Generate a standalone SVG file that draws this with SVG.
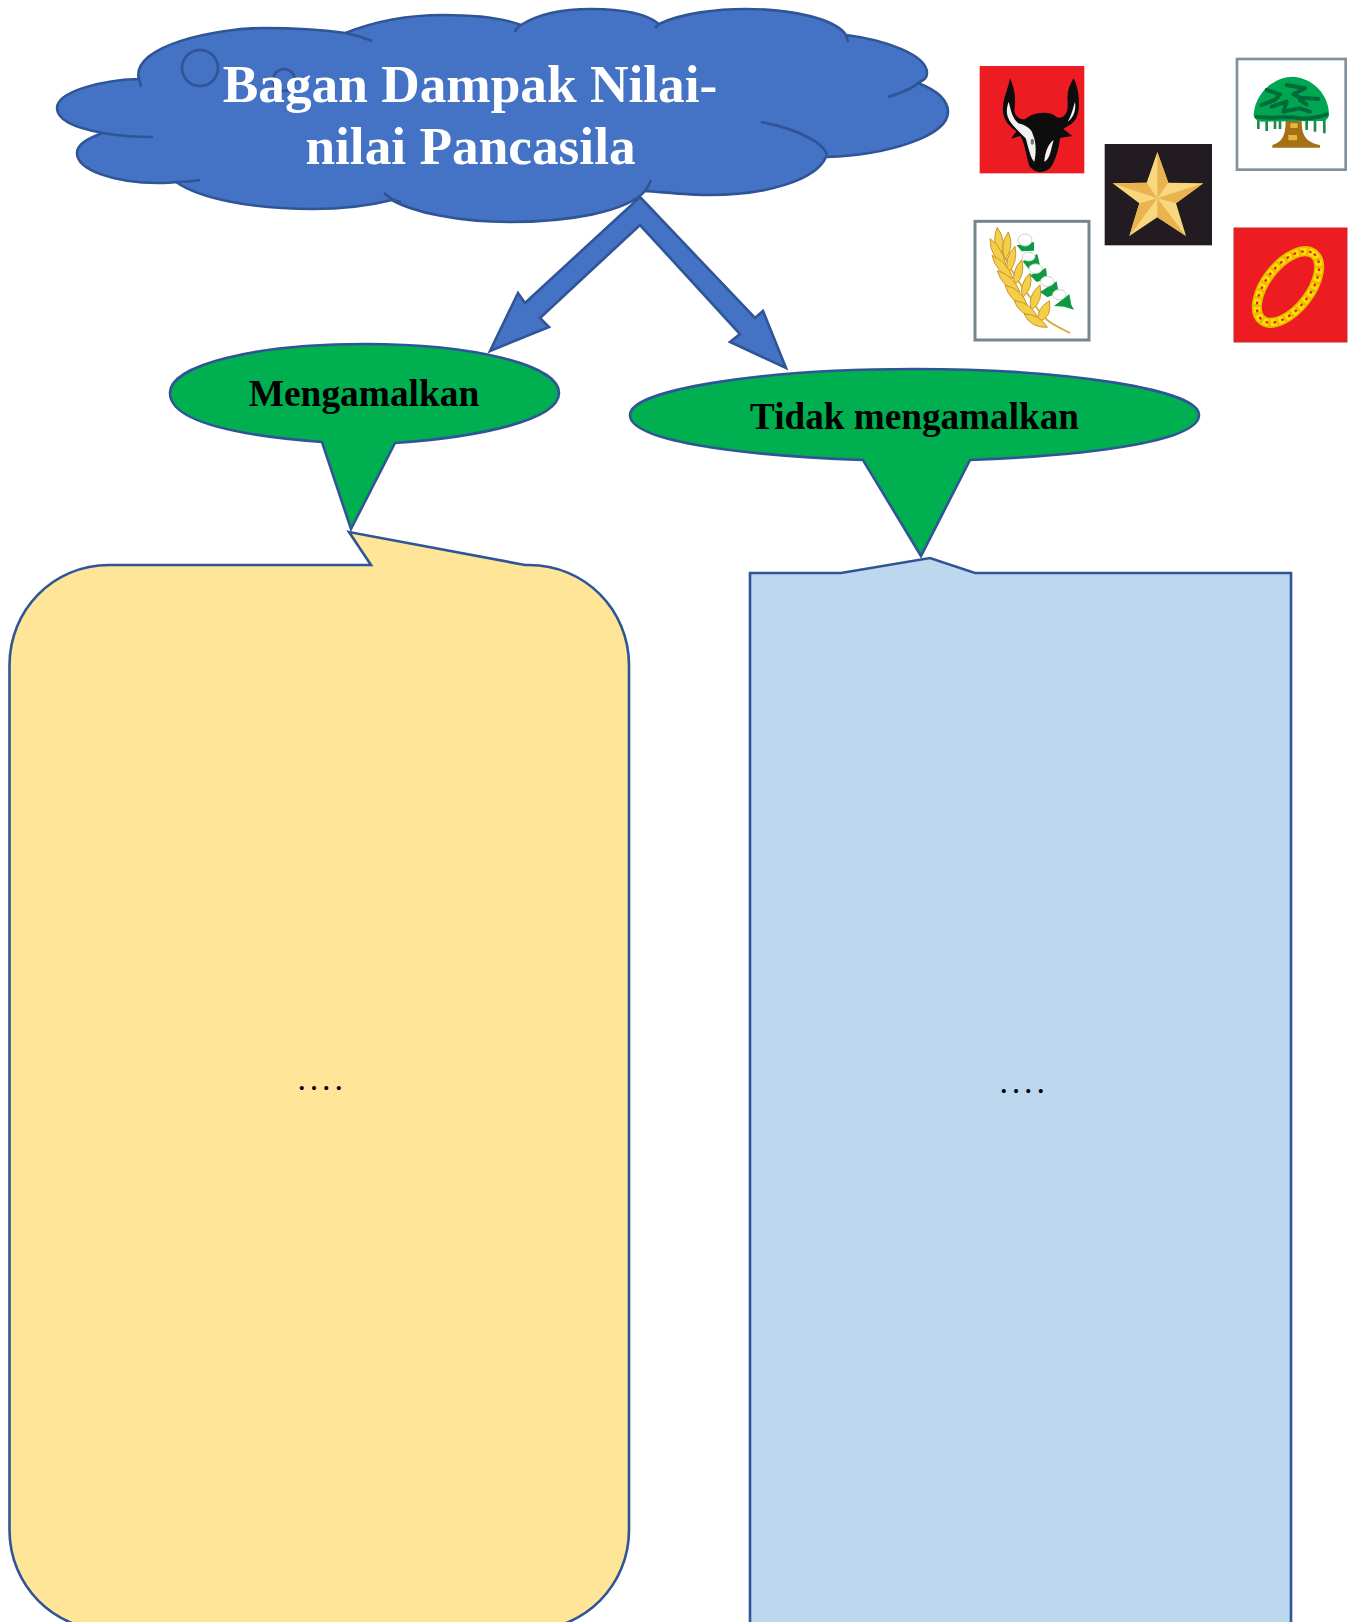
<svg xmlns="http://www.w3.org/2000/svg" width="1354" height="1622" viewBox="0 0 1354 1622">
<style>
.shape{stroke:#2f5597;stroke-width:2.6;stroke-linejoin:miter}
.cloud{fill:#4472c4}
.detail{fill:none;stroke:#2f5597;stroke-width:2.6}
.green{fill:#00b050}
.t{font-family:"Liberation Serif","Times New Roman",serif;font-weight:bold;text-anchor:middle}
.dots{font-family:"Liberation Serif","Times New Roman",serif;font-size:34px;letter-spacing:3.800px;fill:#000}
</style>
<defs>
<filter id="soft" x="-5%" y="-5%" width="110%" height="110%"><feGaussianBlur stdDeviation="0.8"/></filter>
</defs>
<rect width="1354" height="1622" fill="#fff"/>
<g id="connectors">
<path class="shape" fill="#4472c4" d="M640,197 L755,318 L763,311 L786,368 L730,342 L740,334 L640,225 L540,318 L549,327 L490,351 L518,293 L525,303 Z"/>
</g>
<g id="node-title">
<path class="shape cloud" d="M139,80 C130,45 218,28 264,28 C294,28 324,30 345.500,33 C373,22 408,15 443,15 C473,15 503,18 521,25 C538,14 563,9 591,9 C622,9 647,14 659,24 C682,13 717,9 746,9 C796,9 836,20 846,35 C886,40 927,55 927,73 C927,78 924,80 918,83 C936,90 948,100 948,112 C948,135 891,155 826,157 C816,180 767,195 710,195 C687,195 662,192 645,191 C627,212 568,222 509,222 C458,222 413,212 392,200 C368,206 344,209 313,209 C249,209 199,198 176,182 C169,183 164,183 158,183 C114,183 77,170 77,153 C77,145 88,138 103,133 C75,128 57,120 57,108 C57,92 100,80 139,79 Z"/>
<path class="detail" d="M139,79 L141,87 M345.500,33 Q360,36 372,41 M521,25 Q516,28 515,32 M659,24 Q657,26 655,28 M846,35 L848,42 M918,83 Q911,90 888,97 M761,122 C802,130 827,145 827,157 M645,191 Q649,186 651,180 M384,193 Q391,200 401,202 M176,182 Q189,182 200,180 M103,133 Q125,137 153,137"/>
<circle class="detail" cx="200" cy="68" r="18"/>
<circle class="detail" cx="284" cy="80" r="11"/>
<text class="t" x="470" y="102" font-size="53.300" fill="#fff">Bagan Dampak Nilai-</text>
<text class="t" x="470.500" y="164" font-size="53.300" fill="#fff">nilai Pancasila</text>
</g>
<g id="node-mengamalkan">
<path class="shape green" d="M322,442 C230,435 170,420 170,393 C170,365 255,344 364.500,344 C474,344 559,365 559,393 C559,420 480,437 395,443 L351,529 Z"/>
<text class="t" x="364" y="405.500" font-size="37.400" fill="#000">Mengamalkan</text>
</g>
<g id="node-tidak">
<path class="shape green" d="M863,460 C730,455 630,440 630,415 C630,390 760,369 914.500,369 C1069,369 1199,390 1199,415 C1199,440 1100,455 970,460 L921,556 Z"/>
<text class="t" x="914.500" y="429" font-size="37.200" fill="#000">Tidak mengamalkan</text>
</g>
<g id="node-yellow">
<path class="shape" fill="#ffe598" d="M109,565 L371,565 L349,532 L525,565 L529,565 C585,565 629,610 629,665 L629,1530 C629,1585 585,1630 529,1630 L109,1630 C53,1630 9.500,1585 9.500,1530 L9.500,665 C9.500,610 53,565 109,565 Z"/>
<text class="dots" x="297.500" y="1090">....</text>
</g>
<g id="node-blue">
<path class="shape" fill="#bdd7ee" d="M750,573 L841,573 L930,558 L975,573 L1291,573 L1291,1640 L750,1640 Z"/>
<text class="dots" x="999.500" y="1093">....</text>
</g>
<g id="logo-bull" transform="translate(975,60) scale(.3333)" filter="url(#soft)">
<rect x="14" y="18" width="314" height="322" fill="#ed1c24"/>
<path fill="#0d0d0d" d="M105,55 C122,90 122,125 118,150 C118,165 130,178 150,178 C170,158 225,148 245,172 C268,178 280,160 278,125 C275,100 282,75 296,55 C314,90 318,150 302,178 C290,195 275,200 265,207 L292,228 L255,234 C252,270 238,310 225,325 C205,342 175,340 162,315 C152,280 148,245 136,228 L108,236 L124,214 C100,198 80,175 84,140 C86,110 100,85 105,55 Z"/>
<path fill="#f2f2f2" d="M101,125 C108,150 110,172 130,190 C150,195 170,205 174,225 C186,250 182,290 178,305 C168,300 158,255 152,235 C138,220 120,205 108,188 C94,170 92,150 101,125 Z"/>
<path fill="#f2f2f2" d="M208,305 C210,280 218,252 236,240 L230,262 C226,282 220,302 208,305 Z M300,125 C304,150 296,172 278,185 C290,165 294,145 300,125 Z"/>
<ellipse cx="172" cy="245" rx="5" ry="9" fill="#777"/>
</g>
<g id="logo-star" transform="translate(1100,140) scale(.3333)" filter="url(#soft)">
<rect x="14" y="12" width="322" height="304" fill="#231f20"/>
<path fill="#f8d77e" d="M172,36 L205,128 L310,130 L228,190 L258,288 L172,232 L88,288 L118,190 L38,130 L140,128 Z"/>
<path fill="#e9b44f" d="M172,36 L205,128 L172,175 Z M310,130 L228,190 L172,175 Z M258,288 L172,232 L172,175 Z M88,288 L118,190 L172,175 Z M38,130 L140,128 L172,175 Z"/>
</g>
<g id="logo-tree" transform="translate(1225,55) scale(.3333)" filter="url(#soft)">
<rect x="36" y="12" width="326" height="332" fill="#fff" stroke="#7f929c" stroke-width="8"/>
<path fill="#a56f16" d="M182,198 L230,198 C230,240 242,262 285,270 L285,278 L142,278 L142,270 C172,262 182,240 182,198 Z"/>
<path fill="#e4b73a" d="M196,205 h22 v14 h-22 Z M190,240 h26 v16 h-26 Z"/>
<g fill="none" stroke="#1f8a4c" stroke-width="8">
<path d="M100,180 V222 M125,180 V228 M150,180 V222 M165,185 V222 M245,185 V225 M270,185 V230 M298,180 V235"/>
</g>
<path fill="#00a651" d="M86,178 C92,110 150,65 205,65 C265,70 312,120 312,178 C312,192 300,200 285,198 L110,200 C95,198 86,190 86,178 Z"/>
<g fill="none" stroke="#006b38" stroke-width="12" stroke-linejoin="round" stroke-linecap="round">
<path d="M125,105 L165,118 L150,135 L110,150"/>
<path d="M185,90 L240,100 L205,118 L225,128 L280,132"/>
<path d="M140,155 L185,140 L175,170 L225,160 L255,170"/>
<path d="M225,135 L245,148"/>
<path d="M95,185 C140,195 180,180 225,190 C260,192 285,185 305,178"/>
</g>
</g>
<g id="logo-rice" transform="translate(970,218) scale(.3333)" filter="url(#soft)">
<rect x="15" y="10" width="342" height="356" fill="#fff" stroke="#76868c" stroke-width="9"/>
<path fill="none" stroke="#d9a92c" stroke-width="5" d="M300,345 C250,320 220,310 190,250 C140,190 105,130 85,65"/>
<g fill="#f4cf4a" stroke="#c9962a" stroke-width="3">
<path d="M82,28 Q112,70 92,115 Q62,70 82,28Z"/><path d="M115,42 Q135,85 105,125 Q88,80 115,42Z"/>
<path d="M60,62 Q95,85 108,142 Q60,120 60,62Z"/><path d="M135,85 Q145,130 115,165 Q100,120 135,85Z"/>
<path d="M66,112 Q110,130 130,182 Q78,165 66,112Z"/><path d="M155,125 Q168,172 135,200 Q122,160 155,125Z"/>
<path d="M82,158 Q130,172 150,222 Q96,210 82,158Z"/><path d="M180,165 Q192,210 158,238 Q145,200 180,165Z"/>
<path d="M105,202 Q155,212 172,262 Q120,255 105,202Z"/><path d="M210,200 Q222,250 184,276 Q170,235 210,200Z"/>
<path d="M132,248 Q180,252 202,296 Q150,295 132,248Z"/><path d="M238,248 Q248,298 205,312 Q196,275 238,248Z"/>
<path d="M162,288 Q208,288 232,328 Q182,330 162,288Z"/>
</g>
<g fill="#0f9a43">
<path d="M140,82 L192,72 L192,98 L155,100 Z"/><path d="M158,130 L202,108 L210,142 L178,155 Z"/><path d="M180,172 L228,150 L232,182 L200,192 Z"/><path d="M210,222 L260,190 L266,224 L232,238 Z"/><path d="M252,264 L298,228 L304,260 L312,275 L282,266 Z"/>
</g>
<g fill="#fff" stroke="#c7d6c7" stroke-width="3">
<ellipse cx="165" cy="66" rx="21" ry="18"/><ellipse cx="176" cy="116" rx="19" ry="13"/><ellipse cx="197" cy="152" rx="20" ry="14"/><ellipse cx="232" cy="190" rx="20" ry="15"/><ellipse cx="268" cy="230" rx="20" ry="15"/>
</g>
</g>
<g id="logo-chain" transform="translate(1225,225) scale(.3333)" filter="url(#soft)">
<rect x="27" y="9" width="339" height="342" fill="#ed1c24" stroke="#c9252b" stroke-width="3"/>
<ellipse cx="189" cy="186" rx="126" ry="66" transform="rotate(-52 189 186)" fill="none" stroke="#e8bd00" stroke-width="30"/>
<ellipse cx="189" cy="186" rx="126" ry="66" transform="rotate(-52 189 186)" fill="none" stroke="#ffe000" stroke-width="20" stroke-dasharray="16 8"/>
<ellipse cx="189" cy="186" rx="126" ry="66" transform="rotate(-52 189 186)" fill="none" stroke="#ed1c24" stroke-width="7" stroke-dasharray="8 16"/>
</g>
</svg>
